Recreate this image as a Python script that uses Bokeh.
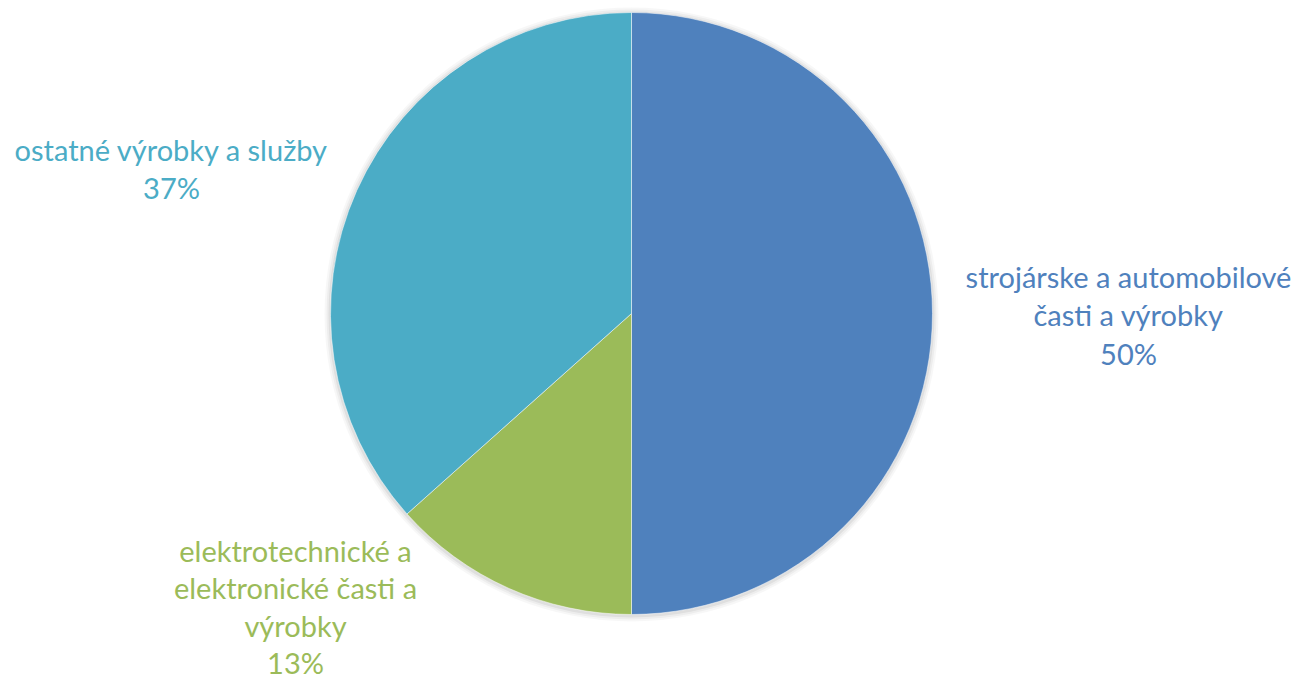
import math
from bokeh.plotting import figure
from bokeh.models import Range1d, ColumnDataSource
from bokeh.core.properties import value
from bokeh.embed import file_html
from bokeh.resources import INLINE

# ---- data ----
categories = ["strojárske a automobilové\nčasti a výrobky",
              "elektrotechnické a\nelektronické časti a\nvýrobky",
              "ostatné výrobky a služby"]
shares = [50.0, 13.4, 36.6]
colors = ["#4F81BD", "#9BBB59", "#4BACC6"]

# ---- layout ----
W, H = 1299, 681
p = figure(width=W, height=H, output_backend="svg", toolbar_location=None,
           x_range=Range1d(0, W), y_range=Range1d(0, H),
           min_border=0, outline_line_color=None)
p.axis.visible = False
p.grid.visible = False
p.background_fill_color = "white"
p.border_fill_color = "white"

cx, cy, r = 631, 681 - 313, 301

# soft shadow
for k, a in [(6, 0.03), (4, 0.04), (2, 0.06)]:
    p.circle(x=[cx], y=[cy - 1], radius=r + k, fill_color="#000000", fill_alpha=a,
             line_color=None)

total = sum(shares)
ends, starts = [], []
ang = math.pi / 2
for s in shares:
    starts.append(ang)
    ang -= s / total * 2 * math.pi
    ends.append(ang)

src = ColumnDataSource(dict(start=ends, end=starts, color=colors))
p.wedge(x=cx, y=cy, radius=r, start_angle="start", end_angle="end",
        fill_color="color", line_color="white", line_width=0.5, source=src)

# labels
anchors = [(1128, 276), (295, 550), (171, 149)]
lh = [38.3, 37.3, 38.3]
font = value("Lato")
for cat, sh, col, (ax, ay), h in zip(categories, shares, colors, anchors, lh):
    lines = cat.split("\n") + [f"{round(sh)}%"]
    ys = [H - (ay + i * h) for i in range(len(lines))]
    p.text(x=[ax] * len(lines), y=ys, text=lines, text_color=col,
           text_font=font, text_font_size="29px", text_align="center",
           text_baseline="middle")

open("out.html", "w").write(file_html(p, INLINE))
